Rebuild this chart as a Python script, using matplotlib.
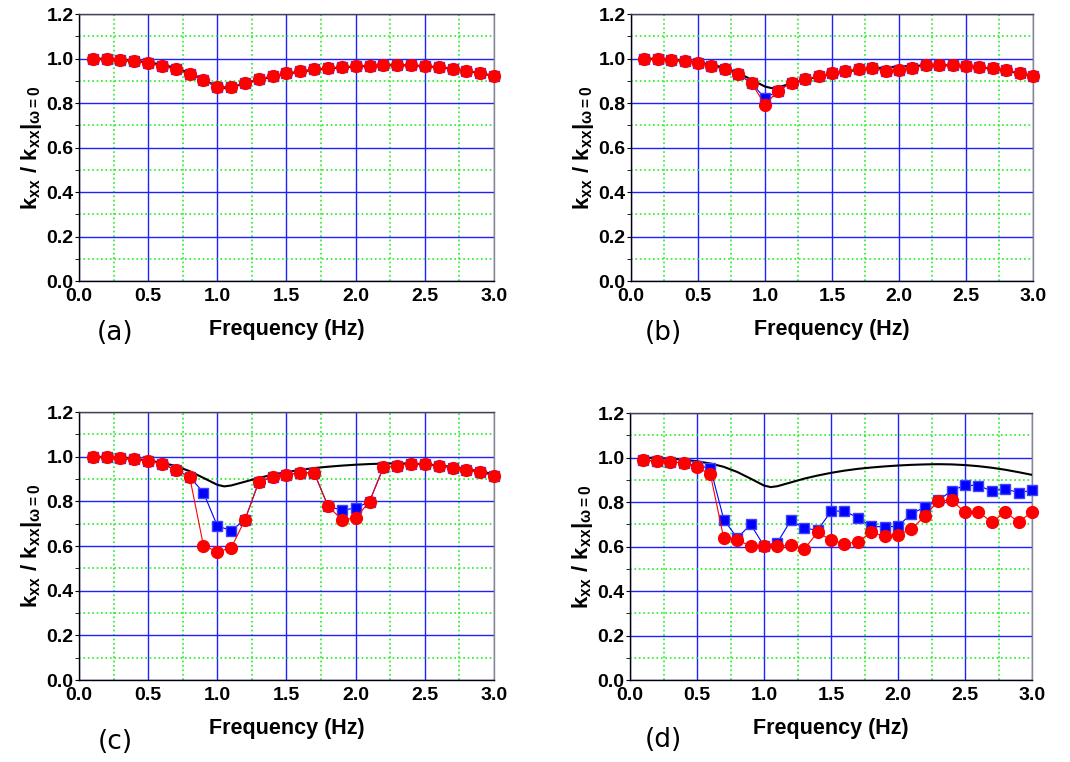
import matplotlib
matplotlib.use("Agg")
import matplotlib.pyplot as plt
from matplotlib.ticker import MultipleLocator

plt.rcParams["font.family"] = ["Liberation Sans", "DejaVu Sans"]
plt.rcParams["mathtext.fontset"] = "custom"
plt.rcParams["mathtext.bf"] = "Liberation Sans:bold"
plt.rcParams["mathtext.rm"] = "Liberation Sans:bold"
plt.rcParams["mathtext.it"] = "Liberation Sans:bold"

freq = [0.1, 0.2, 0.3, 0.4, 0.5, 0.6, 0.7, 0.8, 0.9, 1.0,
        1.1, 1.2, 1.3, 1.4, 1.5, 1.6, 1.7, 1.8, 1.9, 2.0,
        2.1, 2.2, 2.3, 2.4, 2.5, 2.6, 2.7, 2.8, 2.9, 3.0]

# analytical curve (black line)
theory_x = [0.1, 0.2, 0.3, 0.4, 0.5, 0.6, 0.7, 0.8, 0.9, 1.0, 1.05,
            1.1, 1.2, 1.3, 1.4, 1.5, 1.6, 1.7, 1.8, 1.9, 2.0,
            2.1, 2.2, 2.3, 2.4, 2.5, 2.6, 2.7, 2.8, 2.9, 3.0]
theory_y = [1.000, 0.998, 0.995, 0.990, 0.983, 0.973, 0.958, 0.935, 0.905, 0.874, 0.867,
            0.871, 0.888, 0.905, 0.919, 0.931, 0.941, 0.949, 0.955, 0.960, 0.964,
            0.967, 0.969, 0.970, 0.969, 0.966, 0.961, 0.954, 0.945, 0.934, 0.922]

# (a)
a_square = [1.000, 0.997, 0.993, 0.987, 0.978, 0.967, 0.952, 0.930, 0.903, 0.872,
            0.872, 0.890, 0.908, 0.921, 0.933, 0.943, 0.951, 0.957, 0.962, 0.966,
            0.968, 0.970, 0.970, 0.969, 0.966, 0.961, 0.955, 0.946, 0.935, 0.922]
a_circle = [1.000, 0.997, 0.993, 0.987, 0.978, 0.967, 0.952, 0.930, 0.903, 0.872,
            0.872, 0.890, 0.908, 0.921, 0.933, 0.943, 0.951, 0.957, 0.962, 0.966,
            0.968, 0.970, 0.970, 0.969, 0.966, 0.961, 0.955, 0.946, 0.935, 0.922]

# (b)
b_square = [1.000, 0.997, 0.993, 0.987, 0.978, 0.967, 0.952, 0.930, 0.889, 0.821,
            0.856, 0.892, 0.908, 0.920, 0.933, 0.944, 0.951, 0.957, 0.944, 0.947,
            0.957, 0.970, 0.970, 0.969, 0.966, 0.961, 0.956, 0.947, 0.935, 0.923]
b_circle = [1.000, 0.997, 0.993, 0.987, 0.978, 0.967, 0.952, 0.930, 0.889, 0.793,
            0.856, 0.892, 0.908, 0.920, 0.933, 0.944, 0.951, 0.957, 0.944, 0.947,
            0.957, 0.970, 0.970, 0.969, 0.966, 0.961, 0.956, 0.947, 0.935, 0.923]

# (c)
c_square = [1.000, 0.997, 0.994, 0.988, 0.979, 0.969, 0.940, 0.910, 0.839, 0.690,
            0.669, 0.718, 0.887, 0.909, 0.919, 0.928, 0.928, 0.779, 0.760, 0.770,
            0.799, 0.952, 0.960, 0.969, 0.966, 0.960, 0.951, 0.942, 0.930, 0.915]
c_circle = [1.000, 0.997, 0.994, 0.988, 0.979, 0.969, 0.940, 0.910, 0.601, 0.575,
            0.591, 0.718, 0.887, 0.909, 0.919, 0.928, 0.928, 0.779, 0.718, 0.725,
            0.799, 0.952, 0.960, 0.969, 0.966, 0.960, 0.951, 0.942, 0.930, 0.915]

# (d)
d_square = [0.987, 0.985, 0.981, 0.975, 0.963, 0.952, 0.721, 0.638, 0.699, 0.603,
            0.618, 0.717, 0.683, 0.673, 0.758, 0.760, 0.729, 0.691, 0.688, 0.691,
            0.748, 0.776, 0.807, 0.851, 0.875, 0.874, 0.849, 0.859, 0.842, 0.852]
d_circle = [0.987, 0.985, 0.982, 0.975, 0.957, 0.924, 0.636, 0.629, 0.603, 0.601,
            0.601, 0.606, 0.588, 0.664, 0.629, 0.612, 0.621, 0.664, 0.646, 0.651,
            0.679, 0.736, 0.805, 0.808, 0.754, 0.757, 0.708, 0.756, 0.709, 0.757]

panels = [
    ("(a)", a_square, a_circle, [0.0738, 0.6312, 0.3879, 0.3504], (0.1075, 0.563)),
    ("(b)", b_square, b_circle, [0.5897, 0.6312, 0.3757, 0.3504], (0.620, 0.563)),
    ("(c)", c_square, c_circle, [0.0738, 0.1076, 0.3879, 0.3517], (0.1075, 0.026)),
    ("(d)", d_square, d_circle, [0.5888, 0.1076, 0.3757, 0.3504], (0.620, 0.029)),
]

fig = plt.figure(figsize=(10.7, 7.62), dpi=100)

for tag, sq, ci, rect, tagpos in panels:
    ax = fig.add_axes(rect)
    ax.set_xlim(0, 3.0)
    ax.set_ylim(0, 1.2)
    ax.xaxis.set_major_locator(MultipleLocator(0.5))
    ax.xaxis.set_minor_locator(MultipleLocator(0.25))
    ax.yaxis.set_major_locator(MultipleLocator(0.2))
    ax.yaxis.set_minor_locator(MultipleLocator(0.1))
    ax.grid(which="major", color="#2020ff", linewidth=1.0)
    ax.grid(which="minor", color="#22ee22", linestyle=":", linewidth=1.2)
    ax.set_axisbelow(True)

    ax.plot(theory_x, theory_y, color="black", linewidth=1.5, zorder=3)
    ax.plot(freq, sq, color="blue", linewidth=0.8, marker="s", markersize=7,
            markerfacecolor="blue", markeredgecolor="#4040ff", clip_on=False, zorder=4)
    ax.plot(freq, ci, color="red", linewidth=0.8, marker="o", markersize=8.5,
            markerfacecolor="red", markeredgecolor="red", clip_on=False, zorder=5)

    ax.tick_params(axis="both", which="both", direction="out", length=3,
                   labelsize=14, pad=1)
    ax.tick_params(axis="x", which="both", length=0, pad=5)
    for lab in ax.get_xticklabels() + ax.get_yticklabels():
        lab.set_fontweight("bold")

    ax.spines["left"].set_color("black")
    ax.spines["bottom"].set_color("black")
    ax.spines["top"].set_color("#444444")
    ax.spines["right"].set_color("#888888")
    for s in ax.spines.values():
        s.set_linewidth(1.0)

    ax.set_xlabel("Frequency (Hz)", fontsize=15.5, fontweight="bold", labelpad=10)
    ax.set_ylabel(r"$\mathbf{k_{xx}\ /\ k_{xx}|_{\omega=0}}$", fontsize=16, labelpad=2)

    fig.text(tagpos[0], tagpos[1], tag, fontsize=19, ha="center", va="center",
             family=["DejaVu Sans"])

fig.savefig("out.png", dpi=100)
